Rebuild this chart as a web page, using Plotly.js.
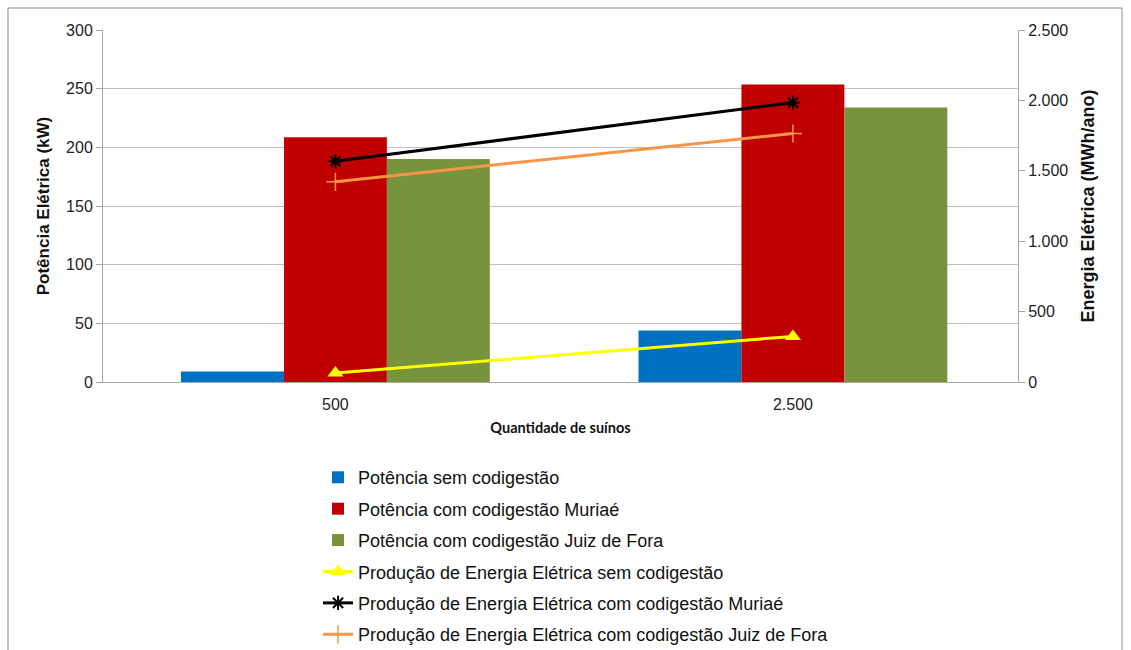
<!DOCTYPE html>
<html>
<head>
<meta charset="utf-8">
<script src="https://cdn.plot.ly/plotly-3.0.1.min.js"></script>
<style>html,body{margin:0;padding:0;background:#fff;overflow:hidden;}#chart{width:1131px;height:680px;}</style>
</head>
<body>
<div id="chart"></div>
<script>
const categories = ["500", "2.500"];
const potenciaSem = [9, 43.8];
const potenciaMuriae = [208.5, 253.5];
const potenciaJuiz = [190, 234];
const energiaSem = [64, 324];
const energiaMuriae = [1568, 1984];
const energiaJuiz = [1422, 1765];
const names = [
  "Potência sem codigestão",
  "Potência com codigestão Muriaé",
  "Potência com codigestão Juiz de Fora",
  "Produção de Energia Elétrica sem codigestão",
  "Produção de Energia Elétrica com codigestão Muriaé",
  "Produção de Energia Elétrica com codigestão Juiz de Fora"
];
const rightTicks = [0, 500, 1000, 1500, 2000, 2500];

const traces = [
  {type:'bar', x:categories, y:potenciaSem, name:names[0], marker:{color:'#0070c0'}, legendgroup:'a'},
  {type:'bar', x:categories, y:potenciaMuriae, name:names[1], marker:{color:'#c00000'}, legendgroup:'b'},
  {type:'bar', x:categories, y:potenciaJuiz, name:names[2], marker:{color:'#77933c'}, legendgroup:'c'},
  {type:'scatter', mode:'lines+markers', x:categories, y:energiaSem, yaxis:'y2', name:names[3], legendgroup:'d',
   line:{color:'#ffff00', width:3}, marker:{symbol:'triangle-up', size:14, color:'#ffff00'}},
  {type:'scatter', mode:'lines+markers', x:categories, y:energiaMuriae, yaxis:'y2', name:names[4], legendgroup:'e',
   line:{color:'#000000', width:3}, marker:{symbol:'asterisk-open', size:12, color:'#000000', line:{width:2, color:'#000'}}},
  {type:'scatter', mode:'lines+markers', x:categories, y:energiaJuiz, yaxis:'y2', name:names[5], legendgroup:'f',
   line:{color:'#f79646', width:3}, marker:{symbol:'cross-thin-open', size:13, color:'#f79646', line:{width:1.5, color:'#f79646'}}}
];

const layout = {
  width:1131, height:680,
  margin:{l:103, r:113, t:30, b:298},
  paper_bgcolor:'#ffffff', plot_bgcolor:'#ffffff',
  font:{family:'Liberation Sans, Arial, sans-serif', color:'#222', size:16},
  separators:',.',
  barmode:'group', bargap:0.325, bargroupgap:0,
  showlegend:true,
  legend:{orientation:'v', x:0.235, xanchor:'left', y:-0.219, yanchor:'top',
          font:{size:18, color:'#111'}, tracegroupgap:5, traceorder:'grouped', bgcolor:'rgba(0,0,0,0)'},
  xaxis:{type:'category', range:[-0.508, 1.492], showgrid:false, showline:true, linecolor:'#a6a6a6', linewidth:1,
         ticks:'', tickfont:{size:16, color:'#222'}, ticklabelstandoff:8,
         title:{text:'<b>Quantidade de suínos</b>', font:{family:'Lato, Open Sans, sans-serif', size:14.5, color:'#111'}, standoff:10}},
  yaxis:{range:[0,300], dtick:50, showgrid:true, gridcolor:'#bfbfbf', gridwidth:1,
         showline:true, linecolor:'#a6a6a6', ticks:'outside', ticklen:6, tickcolor:'#a6a6a6',
         tickfont:{size:16, color:'#222'}, zeroline:false,
         title:{text:'<b>Potência Elétrica (kW)</b>', font:{size:17, color:'#111'}, standoff:12}},
  yaxis2:{overlaying:'y', side:'right', range:[0,2500], tickvals:rightTicks, tickformat:',d',
          showgrid:false, showline:true, linecolor:'#a6a6a6', ticks:'outside', ticklen:6, tickcolor:'#a6a6a6',
          tickfont:{size:16, color:'#222'}, zeroline:false,
          title:{text:'<b>Energia Elétrica (MWh/ano)</b>', font:{size:18, color:'#111'}, standoff:14}},
  shapes:[{type:'rect', xref:'paper', yref:'paper', x0:(8-103)/915, x1:(1122-103)/915, y0:-0.85, y1:(382-8)/352,
           line:{color:'#8c8c8c', width:1}, fillcolor:'rgba(0,0,0,0)', layer:'below'}]
};

Plotly.newPlot('chart', traces, layout, {displayModeBar:false, staticPlot:true});
</script>
</body>
</html>
